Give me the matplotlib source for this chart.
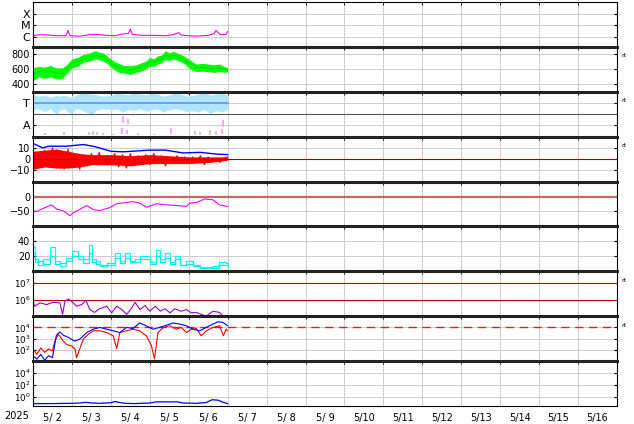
import numpy as np
import matplotlib
matplotlib.use("Agg")
import matplotlib.pyplot as plt

# x in days from 2025-05-02 00:00
days = [f"5/{d:2d}" for d in range(2, 17)]

# X-ray flux (W/m2)
t_xray = [0.0, 0.2, 0.4, 0.6, 0.85, 0.9, 0.95, 1.2, 1.5, 1.7, 1.9, 2.1, 2.3, 2.45, 2.5, 2.55, 2.8, 3.1, 3.4, 3.6, 3.75, 3.8, 4.0, 4.2, 4.5, 4.65, 4.7, 4.8, 4.95, 5.0]
xray = [1.2e-6, 1.5e-6, 1.4e-6, 1.2e-6, 1.2e-6, 3.5e-6, 1.2e-6, 1.1e-6, 1.6e-6, 1.5e-6, 1.3e-6, 1.2e-6, 1.7e-6, 1.9e-6, 4.5e-6, 1.6e-6, 1.3e-6, 1.3e-6, 1.2e-6, 1.5e-6, 2.2e-6, 1.4e-6, 1.2e-6, 1.1e-6, 1.3e-6, 1.8e-6, 3.5e-6, 1.6e-6, 1.5e-6, 2.8e-6]

# solar wind speed (km/s)
t_v = [0, 0.15, 0.3, 0.45, 0.6, 0.75, 0.86, 1.0, 1.15, 1.3, 1.45, 1.6, 1.7, 1.8, 1.9, 2.0, 2.1, 2.2, 2.35, 2.5, 2.65, 2.8, 2.9, 3.0, 3.1, 3.2, 3.3, 3.4, 3.5, 3.6, 3.7, 3.8, 3.9, 4.0, 4.1, 4.2, 4.35, 4.5, 4.65, 4.8, 4.9, 5.0]
v_mid = [540, 570, 560, 575, 545, 550, 600, 685, 700, 750, 760, 790, 780, 765, 730, 685, 650, 620, 600, 595, 610, 635, 660, 700, 690, 725, 740, 790, 770, 790, 770, 750, 720, 685, 650, 620, 625, 620, 610, 620, 600, 595]
v_lo = [450, 500, 480, 500, 470, 480, 540, 620, 640, 700, 710, 740, 730, 710, 680, 630, 590, 560, 550, 530, 560, 580, 610, 640, 640, 670, 690, 730, 720, 740, 720, 700, 670, 620, 590, 570, 575, 570, 560, 570, 560, 565]
v_hi = [620, 640, 630, 650, 620, 620, 660, 740, 760, 800, 820, 850, 830, 820, 780, 740, 700, 680, 650, 650, 660, 690, 710, 760, 740, 780, 790, 850, 820, 840, 820, 800, 770, 740, 700, 670, 680, 670, 660, 670, 640, 620]

# T / A panel (0..1 scale)
t_ta = [0, 0.15, 0.3, 0.45, 0.6, 0.7, 0.8, 0.9, 1.0, 1.1, 1.2, 1.35, 1.5, 1.65, 1.8, 2.0, 2.15, 2.3, 2.45, 2.6, 2.75, 2.9, 3.05, 3.2, 3.35, 3.5, 3.65, 3.8, 3.95, 4.1, 4.25, 4.4, 4.55, 4.7, 4.85, 5.0]
ta_lo = [0.6, 0.62, 0.56, 0.62, 0.5, 0.6, 0.62, 0.55, 0.52, 0.62, 0.6, 0.55, 0.5, 0.6, 0.62, 0.6, 0.62, 0.55, 0.6, 0.58, 0.62, 0.56, 0.6, 0.62, 0.55, 0.6, 0.62, 0.6, 0.56, 0.58, 0.55, 0.6, 0.52, 0.58, 0.55, 0.6]
ta_hi = [0.95, 0.9, 0.93, 0.88, 0.92, 0.9, 0.93, 0.9, 0.88, 0.92, 0.95, 0.97, 0.95, 0.93, 0.9, 0.92, 0.97, 0.95, 0.93, 0.97, 0.95, 0.93, 0.97, 0.95, 0.9, 0.93, 0.97, 0.95, 0.9, 0.92, 0.95, 0.97, 0.93, 0.95, 0.97, 0.93]
t_alert = [2.28, 2.3, 2.42, 2.44, 3.55, 4.85, 4.87]
alert_lo = [0.05, 0.3, 0.05, 0.28, 0.05, 0.05, 0.22]
alert_hi = [0.2, 0.45, 0.15, 0.4, 0.2, 0.18, 0.38]
t_gray = [0.3, 0.8, 1.45, 1.55, 1.65, 1.8, 2.05, 2.7, 3.1, 4.15, 4.3, 4.55, 4.7]
gray_hi = [0.08, 0.1, 0.1, 0.12, 0.1, 0.08, 0.06, 0.08, 0.06, 0.12, 0.1, 0.14, 0.12]

# IMF Bt / Bz (nT)
t_bt = [0, 0.25, 0.4, 0.85, 1.3, 1.6, 2.0, 2.3, 2.55, 3.0, 3.4, 3.85, 4.3, 4.7, 5.0]
bt = [14, 10, 11.5, 11.5, 13, 11, 7, 6.5, 7, 8, 8, 5.5, 6, 4.5, 4]
t_bz = list(np.round(np.arange(0, 5.01, 0.1), 2))
bz = [-10, 5, -6, 8, -4, 10, -8, 6, -9, 9, -7, 4, -9, 3, -6, 5, -4, 6, -5, 3,
      -3, 5, -7, 4, -8, 5, -6, 3, -4, 4, -5, 5, -3, 3, -6, 2, -4, 3, -3, 2,
      -4, 2, -3, 3, -5, 2, -3, 1, -3, 1, 2]
t_bzc = [0, 0.3, 0.6, 0.9, 1.2, 1.5, 2.0, 2.5, 3.0, 3.5, 4.0, 4.5, 5.0]
bzc_lo = [-9, -7, -8, -8, -7, -5, -5, -6, -4, -4, -4, -3, -1]
bzc_hi = [7, 8, 9, 7, 5, 4, 4, 3, 4, 3, 2, 2, 2]

# Dst (nT)
t_dst = [0.0, 0.09, 0.26, 0.47, 0.61, 0.78, 0.95, 1.03, 1.21, 1.38, 1.55, 1.72, 1.97, 2.15, 2.40, 2.57, 2.74, 2.92, 3.17, 3.43, 3.68, 3.94, 4.03, 4.20, 4.41, 4.62, 4.79, 5.0]
dst = [-48, -50, -40, -28, -42, -48, -64, -55, -42, -30, -44, -47, -37, -24, -20, -17, -22, -36, -24, -28, -30, -33, -22, -20, -8, -11, -28, -33]

# cyan index (two traces)
t_c = [0.0, 0.04, 0.14, 0.26, 0.44, 0.56, 0.69, 0.86, 0.99, 1.16, 1.29, 1.45, 1.51, 1.63, 1.72, 1.89, 2.10, 2.23, 2.36, 2.49, 2.61, 2.74, 2.87, 3.0, 3.15, 3.25, 3.38, 3.51, 3.64, 3.77, 3.94, 4.11, 4.28, 4.45, 4.62, 4.79, 4.96, 5.0]
c1 = [32, 16, 9, 16, 32, 14, 7, 18, 27, 20, 16, 35, 16, 14, 8, 9, 25, 14, 24, 12, 16, 20, 21, 12, 28, 16, 24, 12, 21, 9, 14, 9, 6, 5, 7, 12, 11, 5]
c2 = [24, 12, 14, 10, 20, 10, 11, 14, 20, 16, 11, 24, 12, 10, 7, 11, 18, 11, 18, 14, 12, 16, 17, 10, 20, 13, 18, 10, 16, 8, 10, 7, 5, 6, 5, 9, 8, 6]

# electron flux
t_e = [0.0, 0.04, 0.18, 0.35, 0.52, 0.69, 0.76, 0.82, 0.91, 0.99, 1.12, 1.25, 1.36, 1.46, 1.58, 1.71, 1.89, 2.02, 2.15, 2.28, 2.41, 2.54, 2.62, 2.75, 2.88, 3.0, 3.14, 3.27, 3.39, 3.52, 3.64, 3.81, 3.94, 4.06, 4.19, 4.32, 4.45, 4.62, 4.79, 4.88]
e_flux = [1e6, 4e5, 6.3e5, 5e5, 6.9e5, 6.3e5, 1.3e5, 7.9e5, 1.1e6, 7.9e5, 4e5, 5e5, 9e5, 2.5e5, 1.7e5, 2.8e5, 4e5, 1.6e5, 4e5, 2.5e5, 1.3e5, 3.2e5, 6.9e5, 2.5e5, 4.4e5, 2e5, 4e5, 2e5, 2.8e5, 1.6e5, 2.8e5, 2e5, 2.5e5, 1.6e5, 1.7e5, 1.3e5, 1e5, 2e5, 1.7e5, 1e5]

# proton flux (red) and blue trace
t_p = [0.0, 0.1, 0.2, 0.3, 0.4, 0.5, 0.56, 0.65, 0.78, 0.86, 0.99, 1.08, 1.12, 1.29, 1.42, 1.55, 1.72, 1.89, 2.06, 2.15, 2.23, 2.40, 2.57, 2.74, 2.91, 3.04, 3.12, 3.21, 3.35, 3.51, 3.68, 3.81, 3.94, 4.07, 4.20, 4.32, 4.45, 4.62, 4.79, 4.89, 4.96, 5.0]
p_red = [1.2e2, 40, 1.5e2, 60, 1.2e2, 80, 6e2, 2.5e3, 6e2, 3e2, 2.3e2, 1.2e2, 20, 9e2, 2.5e3, 5e3, 5e3, 3.5e3, 1.8e3, 1.3e2, 3.5e3, 5e3, 7e3, 5e3, 1.8e3, 2.5e2, 16, 3.5e3, 1e4, 1.4e4, 7e3, 1e4, 3.5e3, 7e3, 8e3, 1.8e3, 5e3, 1e4, 1.4e4, 1.8e3, 7e3, 5e3]
t_b = [0.0, 0.1, 0.2, 0.3, 0.4, 0.5, 0.6, 0.69, 0.78, 0.91, 1.07, 1.2, 1.38, 1.55, 1.72, 1.89, 2.06, 2.23, 2.40, 2.57, 2.74, 2.91, 3.08, 3.25, 3.43, 3.60, 3.77, 3.94, 4.11, 4.28, 4.45, 4.62, 4.75, 4.88, 5.0]
p_blue = [30, 15, 40, 12, 30, 20, 2e3, 4e3, 2e3, 1.3e3, 6e2, 9e2, 3.5e3, 7e3, 1e4, 7e3, 5e3, 3.5e3, 1e4, 8e3, 2.5e4, 1.4e4, 7e3, 1e4, 1.6e4, 2.5e4, 2e4, 1.4e4, 7e3, 5e3, 1e4, 2e4, 3.2e4, 2.8e4, 1.4e4]

# bottom panel (blue)
t_n = [0.0, 0.5, 1.0, 1.2, 1.35, 1.5, 1.7, 2.0, 2.1, 2.2, 2.35, 2.6, 3.0, 3.15, 3.3, 3.5, 3.7, 3.85, 4.2, 4.45, 4.6, 4.75, 4.9, 5.0]
n_val = [0.08, 0.08, 0.09, 0.1, 0.13, 0.1, 0.09, 0.11, 0.18, 0.13, 0.09, 0.08, 0.1, 0.15, 0.16, 0.15, 0.16, 0.1, 0.09, 0.12, 0.35, 0.3, 0.12, 0.08]

plt.rcParams['font.family'] = ['DejaVu Sans']
plt.rcParams['font.size'] = 7

fig, axes = plt.subplots(9, 1, figsize=(6.34, 4.24), dpi=100, sharex=True)
fig.subplots_adjust(left=33/634, right=617/634, top=1-2/424, bottom=1-406/424, hspace=0)

grid_c = '#cccccc'
for i, ax in enumerate(axes):
    ax.set_xlim(0, 15)
    ax.set_xticks(np.arange(15) + 0.5)
    ax.set_xticks(np.arange(16), minor=True)
    ax.tick_params(axis='x', which='major', length=0, labelbottom=False)
    ax.tick_params(axis='x', which='minor', length=2, direction='in', top=True, bottom=False)
    ax.tick_params(axis='y', which='both', direction='in', length=2, right=True, pad=2, labelsize=7)
    ax.tick_params(axis='y', which='minor', length=0)
    ax.grid(True, which='minor', axis='x', color=grid_c, lw=0.7)
    ax.grid(True, which='major', axis='y', color=grid_c, lw=0.7)
    for s in ax.spines.values():
        s.set_linewidth(0.8)
    if i > 0:
        ax.spines['top'].set_linewidth(2.2)
        ax.spines['top'].set_color('#222222')
    ax.set_axisbelow(True)

axes[-1].tick_params(axis='x', which='major', labelbottom=True, pad=5)
axes[-1].set_xticklabels(days)
fig.text(17/634, 1-416/424, '2025', ha='center', va='center', fontsize=7)

# panel 1: X-ray
ax = axes[0]
ax.set_yscale('log')
ax.set_ylim(1.3e-7, 1e-3)
ax.set_yticks([1e-6, 1e-5, 1e-4])
ax.set_yticklabels(['C', 'M', 'X'], fontsize=8)
ax.plot(t_xray, xray, color='#ff00ff', lw=0.8)

# panel 2: speed
ax = axes[1]
ax.set_ylim(300, 900)
ax.set_yticks([400, 600, 800])
ax.fill_between(t_v, v_lo, v_hi, color='#00ff00', lw=0)
ax.plot(t_v, v_mid, color='#00dd00', lw=0.8)

# panel 3: T / A
ax = axes[2]
ax.set_ylim(0, 1)
ax.set_yticks([0.25, 0.75])
ax.set_yticklabels(['A', 'T'], fontsize=8)
ax.axhline(0.5, color='#555555', lw=0.8)
ax.fill_between(t_ta, ta_lo, ta_hi, color='#aee6ff', lw=0)
ax.plot([t_ta[0], t_ta[-1]], [0.75, 0.75], color='#6a8cff', lw=1.2)
ax.vlines(t_alert, alert_lo, alert_hi, color='#ffaaf0', lw=1.5)
ax.vlines(t_gray, 0.03, gray_hi, color='#cccccc', lw=1.5)

# panel 4: Bt / Bz
ax = axes[3]
ax.set_ylim(-20, 20)
ax.set_yticks([-10, 0, 10])
ax.set_yticklabels(['\u221210', '0', '10'])
ax.axhline(0, color='#990000', lw=0.8)
ax.fill_between(t_bzc, bzc_lo, bzc_hi, color='#ff0000', lw=0)
ax.plot(t_bz, bz, color='#ff0000', lw=0.8)
ax.plot(t_bt, bt, color='#0000ff', lw=1)

# panel 5: Dst
ax = axes[4]
ax.set_ylim(-100, 50)
ax.set_yticks([-50, 0])
ax.set_yticklabels(['\u221250', '0'])
ax.axhline(0, color='#cc6666', lw=1.6)
ax.plot(t_dst, dst, color='#ff00ff', lw=0.8)

# panel 6: cyan
ax = axes[5]
ax.set_ylim(0, 60)
ax.set_yticks([20, 40])
ax.plot(t_c, c1, color='#00ffff', lw=0.9, drawstyle='steps-post')
ax.plot(t_c, c2, color='#00eeee', lw=0.9, drawstyle='steps-post')

# panel 7: electrons
ax = axes[6]
ax.set_yscale('log')
ax.set_ylim(1e5, 5e7)
ax.set_yticks([1e6, 1e7])
ax.axhline(1e6, color='#cc0000', lw=0.8)
ax.axhline(1e7, color='#cc0000', lw=0.8)
ax.plot(t_e, e_flux, color='#9900cc', lw=0.8)

# panel 8: protons
ax = axes[7]
ax.set_yscale('log')
ax.set_ylim(10, 1e5)
ax.set_yticks([1e2, 1e3, 1e4])
ax.axhline(1e4, color='#dd2222', lw=1, dashes=(6, 4))
ax.plot(t_p, p_red, color='#ff0000', lw=0.8)
ax.plot(t_b, p_blue, color='#0000ff', lw=0.8)

# panel 9
ax = axes[8]
ax.set_yscale('log')
ax.set_ylim(10**-1.5, 1e6)
ax.set_yticks([1e0, 1e2, 1e4])
ax.plot(t_n, n_val, color='#0000ff', lw=0.9)

for ax in axes[6:]:
    ax.tick_params(axis='y', labelsize=6.3, pad=1.5)

for i in [1, 2, 3, 6, 7]:
    pos = axes[i].get_position()
    fig.text(621/634, pos.y1 - 9/424, 'rt', fontsize=4.5, va='center', ha='left')

fig.savefig('out.png', dpi=100)
